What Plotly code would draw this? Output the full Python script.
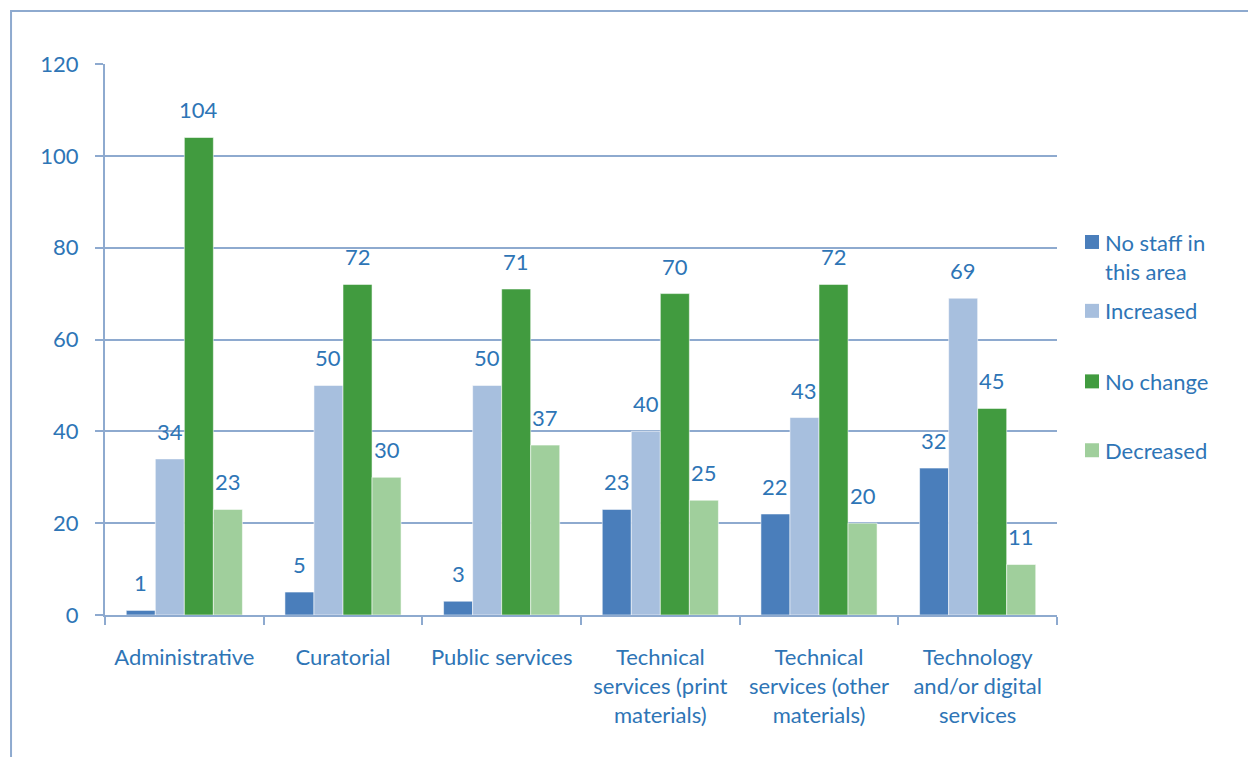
import plotly.graph_objects as go

categories = [
    "Administrative",
    "Curatorial",
    "Public services",
    "Technical<br>services (print<br>materials)",
    "Technical<br>services (other<br>materials)",
    "Technology<br>and/or digital<br>services",
]
series_names = ["No staff in<br>this area", "Increased", "No change", "Decreased"]
no_staff = [1, 5, 3, 23, 22, 32]
increased = [34, 50, 50, 40, 43, 69]
no_change = [104, 72, 71, 70, 72, 45]
decreased = [23, 30, 37, 25, 20, 11]
y_ticks = [0, 20, 40, 60, 80, 100, 120]

series_values = [no_staff, increased, no_change, decreased]
colors = ["#4a7ebb", "#a7bfde", "#419b3f", "#a0cf9c"]
text_color = "#2e75b6"
grid_color = "#8eaacf"
font_family = "Lato, Carlito, Calibri, sans-serif"
font_size = 22

bar_w = 0.183
n = len(series_values)
x_idx = list(range(len(categories)))

fig = go.Figure()
annotations = []
for i, (name, vals, col) in enumerate(zip(series_names, series_values, colors)):
    off = -n * bar_w / 2 + i * bar_w
    fig.add_trace(go.Bar(
        x=x_idx, y=vals, name=name,
        width=bar_w, offset=off,
        marker=dict(color=col, line=dict(color="rgba(255,255,255,0.55)", width=1)),
        showlegend=False,
    ))
    for xi, v in zip(x_idx, vals):
        annotations.append(dict(
            x=xi + off + bar_w / 2, y=v, xref="x", yref="y",
            text=str(v), showarrow=False, yanchor="bottom", yshift=12,
            font=dict(family=font_family, size=font_size, color=text_color),
        ))

# Legend drawn as swatches with labels to the right of the plot
legend_y = [0.677, 0.552, 0.424, 0.299]
shapes = []
for name, col, ly in zip(series_names, colors, legend_y):
    shapes.append(dict(
        type="rect", xref="paper", yref="paper",
        x0=1.0294, x1=1.0441, y0=ly - 0.0127, y1=ly + 0.0127,
        fillcolor=col, line=dict(width=0),
    ))
    annotations.append(dict(
        x=1.0483, y=ly + (0.0275 if "<br>" in name else 0.0), xref="paper", yref="paper",
        text=name, showarrow=False, xanchor="left",
        yanchor="top" if "<br>" in name else "middle", align="left",
        font=dict(family=font_family, size=font_size, color=text_color),
    ))

# Outer frame of the chart area
shapes.append(dict(
    type="rect", xref="paper", yref="paper",
    x0=-0.0987, x1=1.6, y0=-0.5, y1=1.0962,
    line=dict(color=grid_color, width=2), fillcolor="rgba(0,0,0,0)", layer="below",
))

fig.update_layout(
    width=1248, height=757,
    margin=dict(l=105, r=191, t=64, b=142),
    paper_bgcolor="white", plot_bgcolor="white",
    barmode="overlay",
    font=dict(family=font_family, size=font_size, color=text_color),
    annotations=annotations,
    shapes=shapes,
    xaxis=dict(
        range=[-0.5, len(categories) - 0.5],
        tickvals=x_idx, ticktext=categories,
        ticks="", showgrid=False, zeroline=False,
        showline=True, linecolor=grid_color, linewidth=2,
        ticklabelstandoff=22,
        tickfont=dict(family=font_family, size=font_size, color=text_color),
        minor=dict(tickvals=[x - 0.5 for x in range(len(categories) + 1)],
                   ticks="outside", ticklen=8, tickcolor=grid_color, tickwidth=2,
                   showgrid=False),
        fixedrange=True,
    ),
    yaxis=dict(
        range=[0, 120], tickvals=y_ticks,
        showgrid=True, gridcolor=grid_color, gridwidth=2,
        zeroline=False, showline=True, linecolor=grid_color, linewidth=2,
        ticks="outside", ticklen=8, tickcolor=grid_color, tickwidth=2,
        ticklabelstandoff=12,
        tickfont=dict(family=font_family, size=font_size, color=text_color),
        fixedrange=True,
    ),
)

fig.write_html("out.html")
